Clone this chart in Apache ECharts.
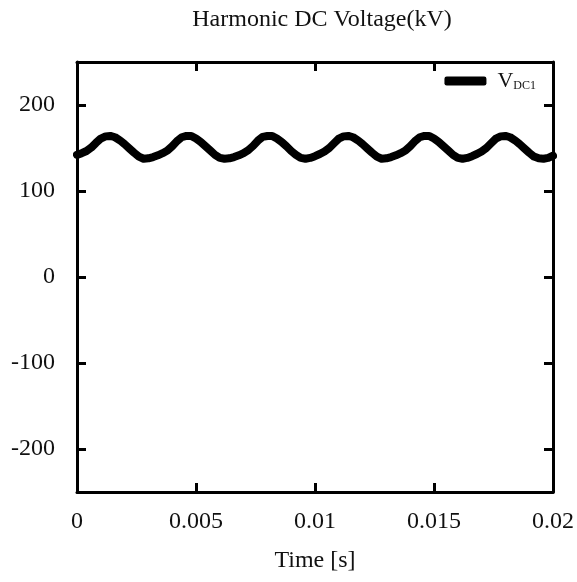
<!DOCTYPE html>
<html>
<head>
<meta charset="utf-8">
<script src="https://cdn.jsdelivr.net/npm/echarts@6/dist/echarts.min.js"></script>
<style>
html,body{margin:0;padding:0;background:#fff;}
#c{width:577px;height:582px;}
</style>
</head>
<body>
<div id="c"></div>
<script>
// Time samples (ms) and DC voltage (kV)
var timeMs = [];
for (var i = 0; i <= 100; i++) timeMs.push(i * 0.2);
var vdc1 = [
  142, 144, 146.5, 150.5, 156, 161, 163.5, 164, 162.5, 159,
  154.5, 149.5, 144.5, 140, 137.5, 138, 139.5, 141.5, 144, 147,
  152, 158, 162.5, 164, 164, 161, 157, 152, 147, 142,
  138.5, 137.5, 138, 139.5, 141.5, 144, 147.5, 152.5, 158.5, 163,
  164, 164, 161, 157, 152, 146.5, 142, 138.5, 137.5, 138.5,
  140.5, 143, 146, 150, 155.5, 161, 163.5, 164, 162.5, 159,
  154.5, 149.5, 144.5, 140, 137.5, 138, 139.5, 141.5, 144, 147,
  152, 158, 162.5, 164, 164, 161, 157, 152, 147, 142,
  138.5, 137.5, 138.5, 140.5, 143, 146, 150, 155.5, 161, 163.5,
  164, 162.5, 159, 154.5, 149.5, 144.5, 140, 138, 137.5, 138.5,
  141
];
var yTicks = [-200, -100, 0, 100, 200];
var xTicks = [0, 0.005, 0.01, 0.015, 0.02];

var font = '"Liberation Serif", "DejaVu Serif", serif';
var data = timeMs.map(function (t, i) { return [t / 1000, vdc1[i]]; });

var chart = echarts.init(document.getElementById('c'));
var axisLine = { show: true, onZero: false, lineStyle: { color: '#000', width: 3 } };
var tick = { show: true, inside: true, length: 9, lineStyle: { color: '#000', width: 3 } };
var yTick = { show: true, inside: true, length: 9, customValues: yTicks, lineStyle: { color: '#000', width: 3 } };
chart.setOption({
  animation: false,
  backgroundColor: '#fff',
  title: {
    text: 'Harmonic DC Voltage(kV)',
    left: 317, top: 3, textAlign: 'center',
    textStyle: { fontFamily: font, fontSize: 24, fontWeight: 'normal', color: '#111' }
  },
  legend: {
    right: 36, top: 65,
    itemWidth: 42, itemHeight: 9, itemGap: 6,
    icon: 'roundRect',
    data: [{ name: 'VDC1' }],
    formatter: function () { return '{a|V}{b|DC1}'; },
    textStyle: {
      padding: [0, 0, 0, 6],
      rich: {
        a: { fontFamily: font, fontSize: 22, color: '#111', verticalAlign: 'bottom' },
        b: { fontFamily: font, fontSize: 12, color: '#111', verticalAlign: 'bottom', padding: [9, 0, 0, 0] }
      }
    }
  },
  grid: { left: 77, right: 24, top: 62, bottom: 90, containLabel: false },
  xAxis: [{
    type: 'value', min: 0, max: 0.02, interval: 0.005,
    name: 'Time [s]', nameLocation: 'middle', nameGap: 57,
    nameTextStyle: { fontFamily: font, fontSize: 24, color: '#111' },
    axisLine: axisLine,
    axisTick: tick,
    axisLabel: { fontFamily: font, fontSize: 24, color: '#111', margin: 18 },
    splitLine: { show: false }
  }, {
    type: 'value', min: 0, max: 0.02, interval: 0.005, position: 'top',
    axisLine: axisLine,
    axisTick: tick,
    axisLabel: { show: false },
    splitLine: { show: false }
  }],
  yAxis: [{
    type: 'value', min: -250, max: 250, position: 'left',
    axisLine: axisLine,
    axisTick: yTick,
    axisLabel: { fontFamily: font, fontSize: 24, color: '#111', margin: 22, customValues: yTicks },
    splitLine: { show: false }
  }, {
    type: 'value', min: -250, max: 250, position: 'right',
    axisLine: axisLine,
    axisTick: yTick,
    axisLabel: { show: false },
    splitLine: { show: false }
  }],
  series: [{
    name: 'VDC1', type: 'line', data: data,
    showSymbol: false, smooth: false,
    lineStyle: { color: '#000', width: 8, cap: 'round', join: 'round' },
    itemStyle: { color: '#000' }
  }]
});
</script>
</body>
</html>
